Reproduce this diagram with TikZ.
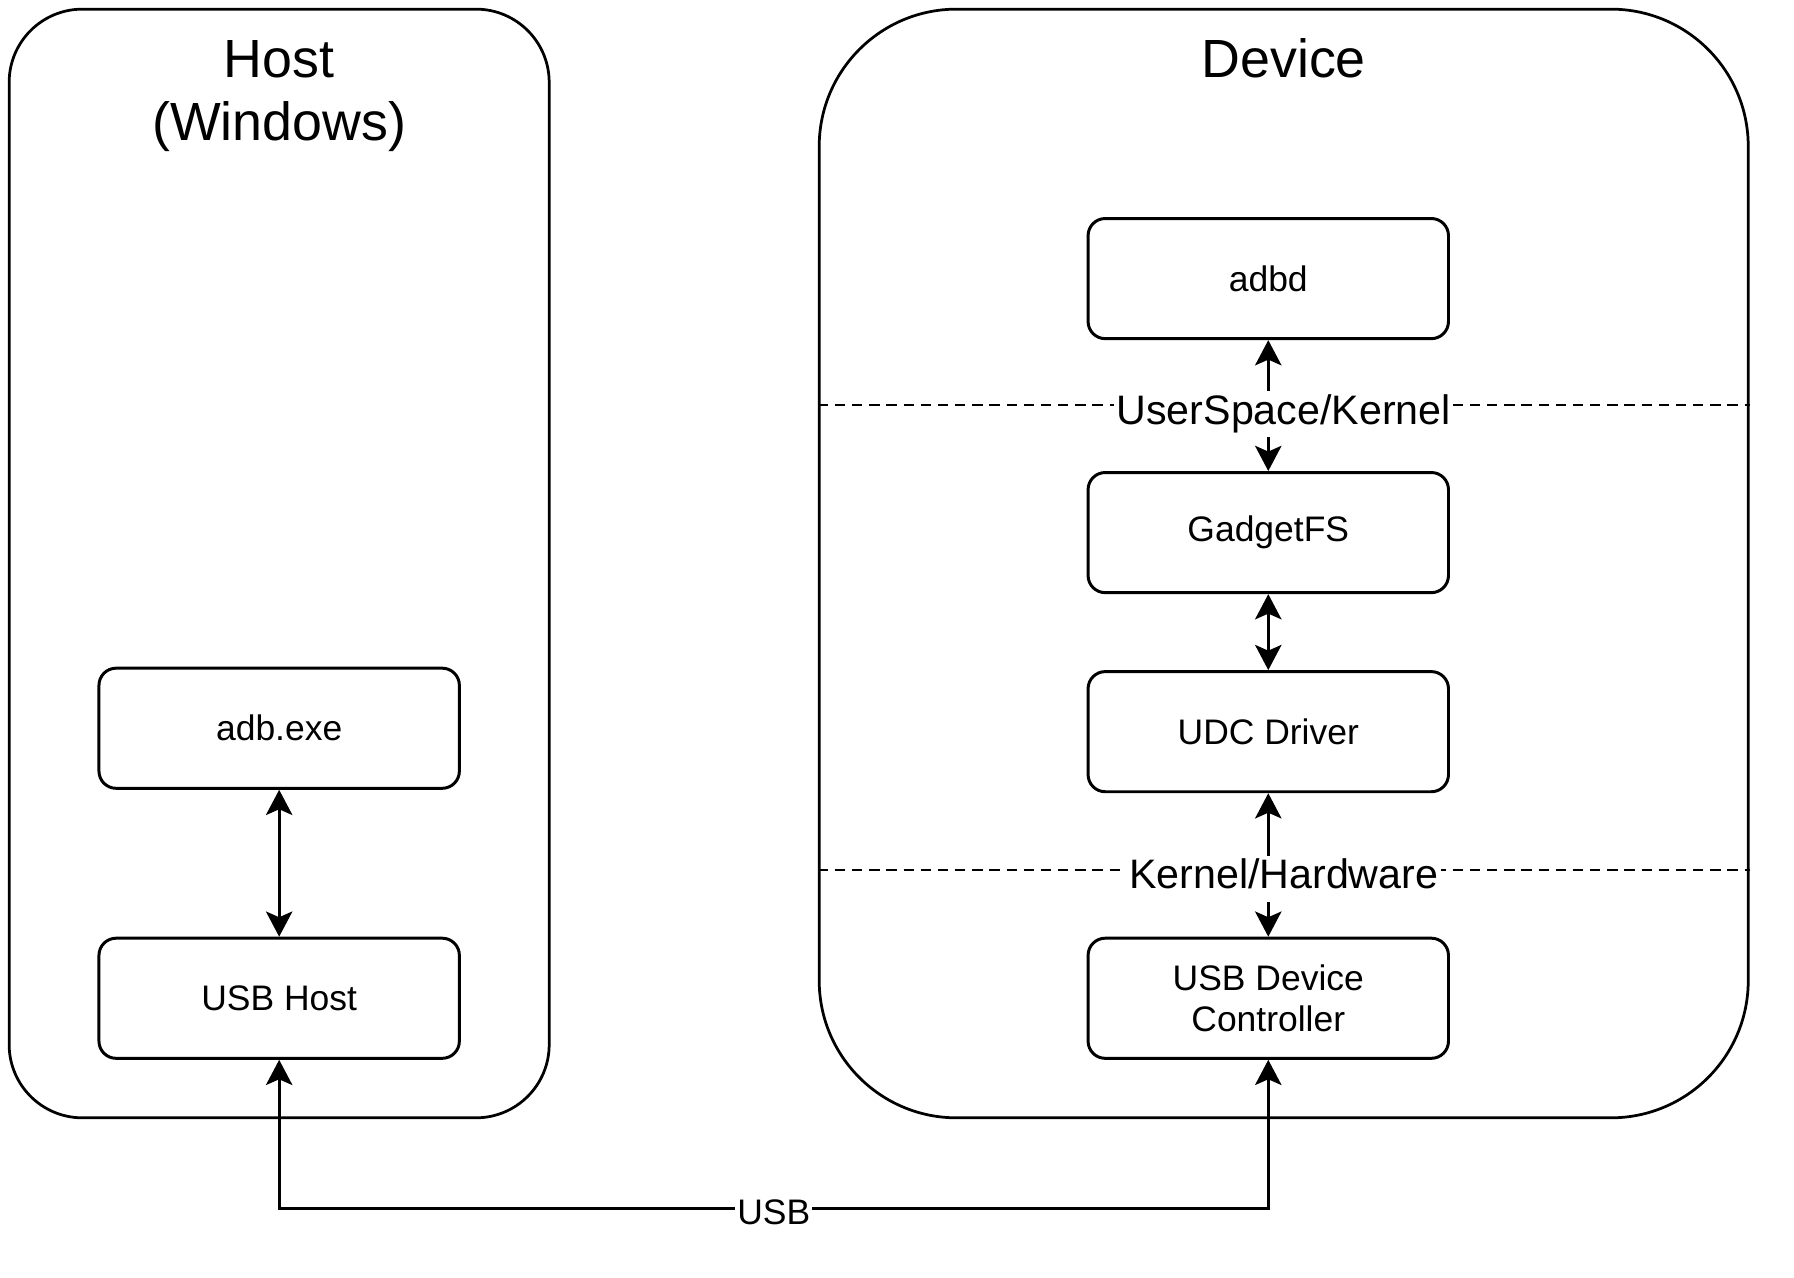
\documentclass[tikz,border=0pt]{standalone}
\usepackage{fontspec}
\setmainfont{Liberation Sans}
\usepackage{tikz}
\usetikzlibrary{arrows.meta}

\begin{document}
\begin{tikzpicture}[x=0.5pt,y=-0.5pt,
    container/.style={draw,line width=1.2pt},
    box/.style={draw,line width=1.3pt,rounded corners=7.5pt,minimum width=157.5pt,minimum height=52.5pt,align=center,font=\fontsize{15.5}{18}\selectfont},
    title/.style={align=center,font=\fontsize{23.5}{27.5}\selectfont},
    both/.style={line width=1.4pt,{Stealth[length=11pt,width=11.5pt,inset=2.5pt]}-{Stealth[length=11pt,width=11.5pt,inset=2.5pt]}},
    layer/.style={line width=0.9pt,dash pattern=on 4.5pt off 3pt},
    cut/.style={fill=white,inner sep=1pt,text height=13.5pt,text depth=4.5pt,yshift=-4pt,font=\fontsize{18}{20}\selectfont}]

    \useasboundingbox (0,0) rectangle (1568,1117);

    \node[container,rounded corners=32pt,minimum width=236pt,minimum height=484.5pt]  (host) at (244, 492.5)  {};
    \node[container,rounded corners=60pt,minimum width=406pt,minimum height=484.5pt]  (dev)  at (1122, 492.5) {};

    \node[title]  (hosttitle) at (244, 84)   {Host\\(Windows)};
    \node[title]  (devtitle)  at (1122, 51)  {Device};

    \node[box]    (adb)      at (244, 636.5)    {adb.exe};
    \node[box]    (usbhost)  at (244, 872.5)    {USB Host};
    \node[box]    (adbd)     at (1108.5, 243.5) {adbd};
    \node[box]    (gadget)   at (1108.5, 465.5) {GadgetFS};
    \node[box]    (udc)      at (1108.5, 639.5) {UDC Driver};
    \node[box]    (usbdc)    at (1108.5, 872.5) {USB Device\\Controller};

    \draw (adb) edge[both] (usbhost);
    \draw (adbd) edge[both] (gadget);
    \draw (gadget) edge[both] (udc);
    \draw (udc) edge[both] (usbdc);
    \draw[both] (usbhost.south) -- ++(0,130) coordinate (usbbend) -- (usbbend -| usbdc.south) node[midway,cut,yshift=1.5pt,font=\fontsize{15.5}{18}\selectfont] (usblabel) {USB} -- (usbdc.south);

    \draw[layer] (dev.west |- 0,354) -- node[cut] (uklabel) {UserSpace/Kernel} (dev.east |- 0,354);
    \draw[layer] (dev.west |- 0,760) -- node[cut] (khlabel) {Kernel/Hardware} (dev.east |- 0,760);
  \end{tikzpicture}
\end{document}
